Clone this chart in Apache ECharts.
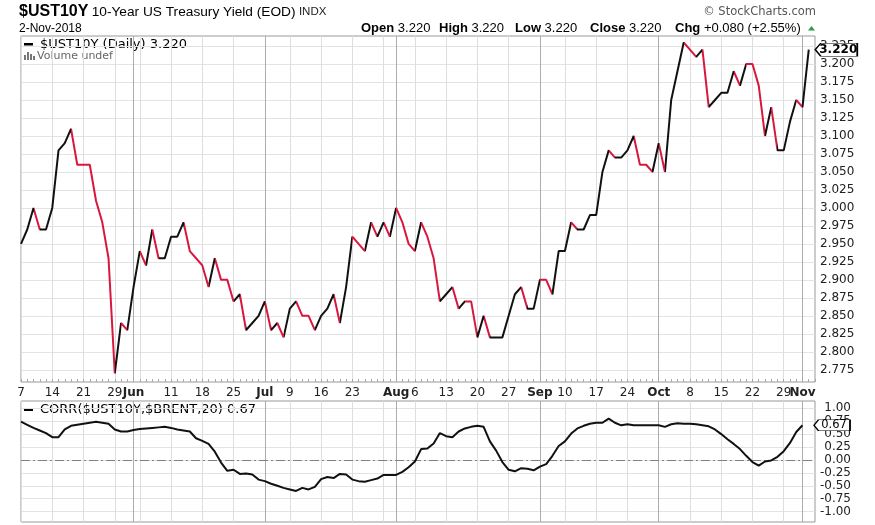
<!DOCTYPE html>
<html><head><meta charset="utf-8">
<script src="https://cdn.jsdelivr.net/npm/echarts@6/dist/echarts.min.js"></script>
<style>html,body{margin:0;padding:0;background:#fff}#c{width:875px;height:525px}</style>
</head><body><div id="c"></div>
<script>
// ---------- data ----------
const dates = [
 '05-07','05-08','05-09','05-10','05-11','05-14','05-15','05-16','05-17','05-18','05-21','05-22','05-23','05-24','05-25','05-29','05-30','05-31',
 '06-01','06-04','06-05','06-06','06-07','06-08','06-11','06-12','06-13','06-14','06-15','06-18','06-19','06-20','06-21','06-22','06-25','06-26','06-27','06-28','06-29',
 '07-02','07-03','07-05','07-06','07-09','07-10','07-11','07-12','07-13','07-16','07-17','07-18','07-19','07-20','07-23','07-24','07-25','07-26','07-27','07-30','07-31',
 '08-01','08-02','08-03','08-06','08-07','08-08','08-09','08-10','08-13','08-14','08-15','08-16','08-17','08-20','08-21','08-22','08-23','08-24','08-27','08-28','08-29','08-30','08-31',
 '09-04','09-05','09-06','09-07','09-10','09-11','09-12','09-13','09-14','09-17','09-18','09-19','09-20','09-21','09-24','09-25','09-26','09-27','09-28',
 '10-01','10-02','10-03','10-04','10-05','10-08','10-09','10-10','10-11','10-12','10-15','10-16','10-17','10-18','10-19','10-22','10-23','10-24','10-25','10-26','10-29','10-30','10-31',
 '11-01','11-02'
];
const year = 2018;
const yieldValues = [
 2.95,2.97,3.00,2.97,2.97,3.00,3.08,3.09,3.11,3.06,
 3.06,3.06,3.01,2.98,2.93,2.77,2.84,2.83,2.89,2.94,
 2.92,2.97,2.93,2.93,2.96,2.96,2.98,2.94,2.93,2.92,
 2.89,2.93,2.90,2.90,2.87,2.88,2.83,2.84,2.85,2.87,
 2.83,2.84,2.82,2.86,2.87,2.85,2.85,2.83,2.85,2.86,
 2.88,2.84,2.89,2.96,2.95,2.94,2.98,2.96,2.98,2.96,
 3.00,2.98,2.95,2.94,2.98,2.96,2.93,2.87,2.88,2.89,
 2.86,2.87,2.87,2.82,2.85,2.82,2.82,2.82,2.85,2.88,
 2.89,2.86,2.86,2.90,2.90,2.88,2.94,2.94,2.98,2.97,
 2.97,2.99,2.99,3.05,3.08,3.07,3.07,3.08,3.10,3.06,
 3.06,3.05,3.09,3.05,3.15,3.19,3.23,3.22,3.21,3.22,
 3.14,3.15,3.16,3.16,3.19,3.17,3.20,3.20,3.17,3.10,
 3.14,3.08,3.08,3.12,3.15,3.14,3.22
];
const corrValues = [
 0.74,0.68,0.62,0.57,0.52,0.44,0.44,0.59,0.66,0.68,
 0.70,0.72,0.74,0.72,0.70,0.59,0.55,0.55,0.58,0.60,
 0.61,0.62,0.63,0.64,0.62,0.59,0.57,0.55,0.42,0.37,
 0.31,0.16,-0.05,-0.21,-0.19,-0.27,-0.26,-0.28,-0.38,-0.41,
 -0.46,-0.50,-0.54,-0.57,-0.60,-0.54,-0.57,-0.52,-0.37,-0.33,
 -0.35,-0.27,-0.28,-0.38,-0.41,-0.42,-0.39,-0.36,-0.29,-0.29,
 -0.29,-0.23,-0.14,-0.03,0.21,0.22,0.32,0.52,0.46,0.44,
 0.55,0.61,0.64,0.66,0.64,0.36,0.18,-0.04,-0.19,-0.22,
 -0.16,-0.17,-0.20,-0.13,-0.08,0.08,0.27,0.36,0.51,0.61,
 0.66,0.70,0.72,0.72,0.80,0.72,0.67,0.69,0.67,0.67,
 0.67,0.67,0.67,0.64,0.69,0.71,0.70,0.70,0.69,0.67,
 0.65,0.59,0.50,0.40,0.31,0.21,0.08,-0.04,-0.11,-0.03,
 -0.01,0.06,0.17,0.33,0.54,0.67
];
const yieldTicks = [2.775,2.800,2.825,2.850,2.875,2.900,2.925,2.950,2.975,3.000,3.025,3.050,3.075,3.100,3.125,3.150,3.175,3.200,3.225];
const corrTicks = [-1.00,-0.75,-0.50,-0.25,0.00,0.25,0.50,0.75,1.00];
const monthNames = ['Jan','Feb','Mar','Apr','May','Jun','Jul','Aug','Sep','Oct','Nov','Dec'];

// ---------- derived ----------
const RED = '#d8173f', BLACK = '#111111';
const dObjs = dates.map(s => { const p = s.split('-').map(Number); return new Date(year, p[0]-1, p[1]); });
const isMonthStart = dObjs.map((d,i) => i>0 && d.getMonth() !== dObjs[i-1].getMonth());
const isWeekStart = dObjs.map((d,i) => i===0 || d.getDay() <= dObjs[i-1].getDay());
const cats = dates.concat(['']);
function dayLabel(i){
  if (i >= dates.length || isMonthStart[i] || !isWeekStart[i]) return '';
  for (let k=-2;k<=2;k++) if (k!==0 && i+k>=0 && i+k<dates.length && isMonthStart[i+k]) return '';
  return String(dObjs[i].getDate());
}
function monthLabel(i){
  return (i < dates.length && isMonthStart[i]) ? monthNames[dObjs[i].getMonth()] : '';
}
const weekInt = i => i < dates.length && isWeekStart[i] && !isMonthStart[i];
const monthInt = i => i < dates.length && isMonthStart[i];

// red (down) segments; flat segments take the colour of the next move
const pieces = [];
for (let k=1;k<yieldValues.length;k++){
  let diff = yieldValues[k]-yieldValues[k-1];
  if (diff === 0){
    let j=k+1; while (j<yieldValues.length && yieldValues[j]===yieldValues[j-1]) j++;
    diff = j<yieldValues.length ? yieldValues[j]-yieldValues[j-1] : 0;
  }
  if (diff < 0){
    const last = pieces[pieces.length-1];
    if (last && last.lte === k-1) last.lte = k;
    else pieces.push({gt:k-1, lte:k, color:RED});
  }
}
const n = yieldValues.length;
const lastV = yieldValues[n-1], prevV = yieldValues[n-2];
const chg = lastV - prevV, pct = chg/prevV*100;
const lastDate = dObjs[dObjs.length-1];
const dateStr = lastDate.getDate() + '-' + monthNames[lastDate.getMonth()] + '-' + lastDate.getFullYear();
const lastCorr = corrValues[corrValues.length-1];

const AX = 'DejaVu Sans', AR = 'Liberation Sans';
function weekAxis(g, withLabels){
  return {gridIndex:g, type:'category', position:'bottom', data:cats, boundaryGap:false,
    axisLine:{show:false},
    axisTick:{show:withLabels, interval:0, inside:true, length:3, lineStyle:{color:'#a8a8a8'}},
    axisLabel:{show:withLabels, interval:i=>dayLabel(i)!=='', formatter:(v,i)=>dayLabel(i), margin:5,
      hideOverlap:false, showMaxLabel:true, showMinLabel:true,
      fontSize:12, fontFamily:AX, color:'#222'},
    splitLine:{show:true, interval:weekInt, lineStyle:{color:'#dedede', width:1}}};
}
function monthAxis(g, withLabels){
  return {gridIndex:g, type:'category', position:'bottom', offset:0, data:cats, boundaryGap:false,
    axisLine:{show:false}, axisTick:{show:false},
    axisLabel:{show:withLabels, interval:i=>monthLabel(i)!=='', formatter:(v,i)=>monthLabel(i), margin:5,
      hideOverlap:false, showMaxLabel:true, showMinLabel:true,
      fontSize:12, fontWeight:'bold', fontFamily:AX, color:'#222'},
    splitLine:{show:true, interval:monthInt, lineStyle:{color:'#acacac', width:1}}};
}
const statRich = {b:{fontWeight:'bold', fontSize:13, fontFamily:AR}};
function stat(x, txt){
  return {type:'text', x:x, y:28, style:{text:txt, font:'13px "Liberation Sans"', fill:'#000', verticalAlign:'middle', rich:statRich}};
}

const chart = echarts.init(document.getElementById('c'));
const option = {
  animation:false,
  backgroundColor:'#fff',
  textStyle:{fontFamily:AX},
  grid:[
    {left:21, top:36, width:794, height:346, show:true, borderColor:'#999', borderWidth:1, backgroundColor:'transparent', containLabel:false, outerBoundsMode:'none'},
    {left:21, top:401, width:794, height:121, show:true, borderColor:'#999', borderWidth:1, backgroundColor:'transparent', containLabel:false, outerBoundsMode:'none'}
  ],
  xAxis:[ weekAxis(0,true), monthAxis(0,true), weekAxis(1,false), monthAxis(1,false) ],
  yAxis:[
    {gridIndex:0, type:'value', position:'right', min:2.758, max:3.239, scale:true,
      axisLine:{show:false}, axisTick:{show:false, customValues:yieldTicks},
      axisLabel:{customValues:yieldTicks, formatter:v=>v.toFixed(3), margin:5, align:'left', fontSize:12, fontFamily:AX, color:'#222'},
      splitLine:{show:true, lineStyle:{color:'#e3e3e3', width:1}}},
    {gridIndex:1, type:'value', position:'right', min:-1.2, max:1.14,
      axisLine:{show:false}, axisTick:{show:false, customValues:corrTicks},
      axisLabel:{customValues:corrTicks, formatter:v=>v.toFixed(2), margin:36, align:'right', fontSize:12, fontFamily:AX, color:'#222'},
      splitLine:{show:true, lineStyle:{color:'#e3e3e3', width:1}}}
  ],
  visualMap:{type:'piecewise', show:false, dimension:0, seriesIndex:0, pieces:pieces, outOfRange:{color:BLACK}},
  series:[
    {type:'line', name:'$UST10Y', xAxisIndex:0, yAxisIndex:0, data:yieldValues, symbol:'none', showSymbol:false,
      lineStyle:{width:2}, z:3,
      markPoint:{symbol:'path://M0,6.5 L6,0 L46,0 L46,13 L6,13 Z', symbolSize:[42,13], symbolKeepAspect:false,
        symbolOffset:[27.5,0], silent:true, z:10,
        itemStyle:{color:'#fff', borderColor:'#000', borderWidth:1},
        label:{show:true, position:'inside', offset:[2,0], formatter:p=>p.value.toFixed(3), color:'#000', fontWeight:'bold', fontSize:12, fontFamily:AX},
        data:[{coord:[n-1, lastV], value:lastV}]}},
    {type:'line', name:'CORR', xAxisIndex:2, yAxisIndex:1, data:corrValues, symbol:'none', showSymbol:false,
      lineStyle:{width:2, color:BLACK}, itemStyle:{color:BLACK}, z:3,
      markLine:{silent:true, symbol:['none','none'], label:{show:false}, z:2,
        lineStyle:{color:'#808080', type:[9,3,2,3], width:1}, data:[{yAxis:0}]},
      markPoint:{symbol:'path://M0,6 L5,0 L40,0 L40,12 L5,12 Z', symbolSize:[36,11], symbolKeepAspect:false,
        symbolOffset:[29.5,0], silent:true, z:10,
        itemStyle:{color:'#fff', borderColor:'#000', borderWidth:1},
        label:{show:true, position:'inside', offset:[2,0], formatter:p=>p.value.toFixed(2), color:'#000', fontSize:11.5, fontFamily:AX},
        data:[{coord:[corrValues.length-1, lastCorr], value:lastCorr}]}}
  ],
  graphic:[
    {type:'text', x:19, y:12, style:{text:'{a|$UST10Y} {b|10-Year US Treasury Yield (EOD)} {c|INDX}', verticalAlign:'middle',
      rich:{a:{fontFamily:AR, fontWeight:'bold', fontSize:16, fill:'#000'}, b:{fontFamily:AR, fontSize:13.7, fill:'#000'}, c:{fontFamily:AR, fontSize:11.5, fill:'#222'}}}},
    {type:'text', x:19, y:29, style:{text:dateStr, font:'12px "Liberation Sans"', fill:'#000', verticalAlign:'middle'}},
    {type:'text', x:816, y:12, style:{text:'\u00A9 StockCharts.com', font:'11.5px "DejaVu Sans"', fill:'#555', align:'right', verticalAlign:'middle'}},
    stat(361, '{b|Open} '+lastV.toFixed(3)),
    stat(439, '{b|High} '+lastV.toFixed(3)),
    stat(515, '{b|Low} '+lastV.toFixed(3)),
    stat(590, '{b|Close} '+lastV.toFixed(3)),
    stat(675, '{b|Chg} '+(chg>=0?'+':'')+chg.toFixed(3)+' ('+(pct>=0?'+':'')+pct.toFixed(2)+'%)'),
    {type:'polygon', shape:{points:[[808,30.5],[815,30.5],[811.5,26]]}, style:{fill:'#2e9b45'}},
    // legend top
    {type:'rect', shape:{x:24, y:43, width:9, height:2.5}, style:{fill:'#000'}},
    {type:'text', x:40, y:45, style:{text:'$UST10Y (Daily) '+lastV.toFixed(3), font:'13px "DejaVu Sans"', fill:'#000', verticalAlign:'middle'}},
    {type:'rect', shape:{x:24, y:55, width:2, height:5}, style:{fill:'#777'}},
    {type:'rect', shape:{x:27, y:52, width:2, height:8}, style:{fill:'#777'}},
    {type:'rect', shape:{x:30, y:54, width:2, height:6}, style:{fill:'#777'}},
    {type:'rect', shape:{x:33, y:56, width:2, height:4}, style:{fill:'#777'}},
    {type:'text', x:37, y:56.5, style:{text:'Volume undef', font:'11px "DejaVu Sans"', fill:'#666', verticalAlign:'middle'}},
    // legend bottom
    {type:'rect', shape:{x:24, y:408.5, width:9, height:2.5}, style:{fill:'#000'}},
    {type:'text', x:40, y:410, style:{text:'CORR($UST10Y,$BRENT,20) '+lastCorr.toFixed(2), font:'13px "DejaVu Sans"', fill:'#000', verticalAlign:'middle'}}
  ]
};
chart.setOption(option);
</script></body></html>
